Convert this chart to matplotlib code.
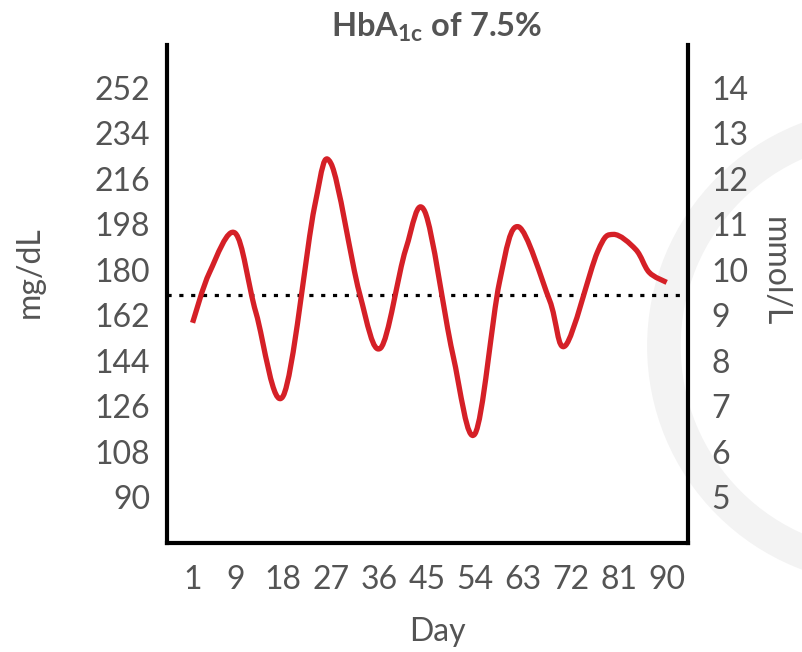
import matplotlib
matplotlib.use("Agg")
import matplotlib.pyplot as plt
from matplotlib.path import Path
from matplotlib.patches import PathPatch, Wedge
from matplotlib.transforms import IdentityTransform

plt.rcParams['font.family'] = ['Lato', 'DejaVu Sans']
plt.rcParams['mathtext.fontset'] = 'custom'
plt.rcParams['mathtext.rm'] = 'Lato'
plt.rcParams['mathtext.bf'] = 'Lato:bold'

TEXT = '#545454'
RED = '#d52027'

# glucose readings (mg/dL)
days = [1, 4.2, 9, 12.9, 18, 23.9, 27, 32.3, 36.3, 41, 44.6, 49.8, 54,
        58.6, 62.2, 68, 71, 77, 80, 84.2, 86.7, 90]
glucose = [159, 179, 194.5, 163, 130, 205, 222, 171, 149, 188, 203, 147, 115,
           175, 197, 168, 150, 187, 194, 188, 179, 175]
mean_glucose = 170  # eAG for HbA1c 7.5%

x_ticks = [1, 9, 18, 27, 36, 45, 54, 63, 72, 81, 90]
mg_ticks = [90, 108, 126, 144, 162, 180, 198, 216, 234, 252]
mmol_ticks = [5, 6, 7, 8, 9, 10, 11, 12, 13, 14]
y_lim = (71.8, 269)


def smooth_path(xs, ys):
    # catmull-rom -> cubic bezier, like a spreadsheet "smoothed line"
    pts = list(zip(xs, ys))
    n = len(pts)
    verts = [pts[0]]
    codes = [Path.MOVETO]
    for i in range(n - 1):
        p0 = pts[max(i - 1, 0)]
        p1 = pts[i]
        p2 = pts[i + 1]
        p3 = pts[min(i + 2, n - 1)]
        c1 = (p1[0] + (p2[0] - p0[0]) / 6, p1[1] + (p2[1] - p0[1]) / 6)
        c2 = (p2[0] - (p3[0] - p1[0]) / 6, p2[1] - (p3[1] - p1[1]) / 6)
        verts += [c1, c2, p2]
        codes += [Path.CURVE4] * 3
    return Path(verts, codes)


W, H = 803, 652
fig = plt.figure(figsize=(W / 100, H / 100), dpi=100)

# faint watermark ring
ring = Wedge((885.7, H - 346.2), 238.6, 0, 360, width=33.6,
             transform=IdentityTransform(), facecolor='#f3f3f3',
             edgecolor='none', zorder=-5)
fig.add_artist(ring)

ax = fig.add_axes([167 / W, 1 - 543 / H, (688 - 167) / W, (543 - 45) / H])
ax.set_facecolor('none')
ax.set_xlim(-3.8, 94)
ax.set_ylim(*y_lim)

ax.add_patch(PathPatch(smooth_path(days, glucose), fill=False, edgecolor=RED,
                       lw=3.8, capstyle='butt', joinstyle='round', zorder=3))
ax.axhline(mean_glucose, color='black', lw=2.3, linestyle=(0, (1.3, 2.4)),
           dash_capstyle='butt', zorder=2)

for s in ['left', 'right', 'bottom']:
    ax.spines[s].set_linewidth(3)
    ax.spines[s].set_color('black')
ax.spines['top'].set_visible(False)

ax.set_xticks(x_ticks)
ax.set_xticklabels([str(d) for d in x_ticks])
ax.set_yticks(mg_ticks)
ax.set_yticklabels([str(v) for v in mg_ticks])
ax.tick_params(axis='both', length=0, labelsize=23, labelcolor=TEXT)
ax.tick_params(axis='x', pad=16)
ax.tick_params(axis='y', pad=12)

ax2 = ax.twinx()
ax2.set_ylim(y_lim[0] / 18, y_lim[1] / 18)
ax2.set_yticks(mmol_ticks)
ax2.set_yticklabels([str(v) for v in mmol_ticks])
ax2.tick_params(axis='y', length=0, labelsize=23, labelcolor=TEXT, pad=17)
for s in ax2.spines.values():
    s.set_visible(False)

fig.text(30 / W, 1 - 272 / H, 'mg/dL', rotation=90, ha='center', va='center',
         fontsize=23, color=TEXT)
fig.text(775 / W, 1 - 272 / H, 'mmol/L', rotation=270, ha='center', va='center',
         fontsize=23, color=TEXT)
fig.text(437 / W, 1 - 632 / H, 'Day', ha='center', va='center',
         fontsize=23, color=TEXT)
fig.text(437 / W, 1 - 27 / H, r'HbA$_{\mathbf{1c}}$ of 7.5%', ha='center',
         va='center', fontsize=23.5, fontweight='bold', color=TEXT)

fig.savefig('out.png', dpi=100)
